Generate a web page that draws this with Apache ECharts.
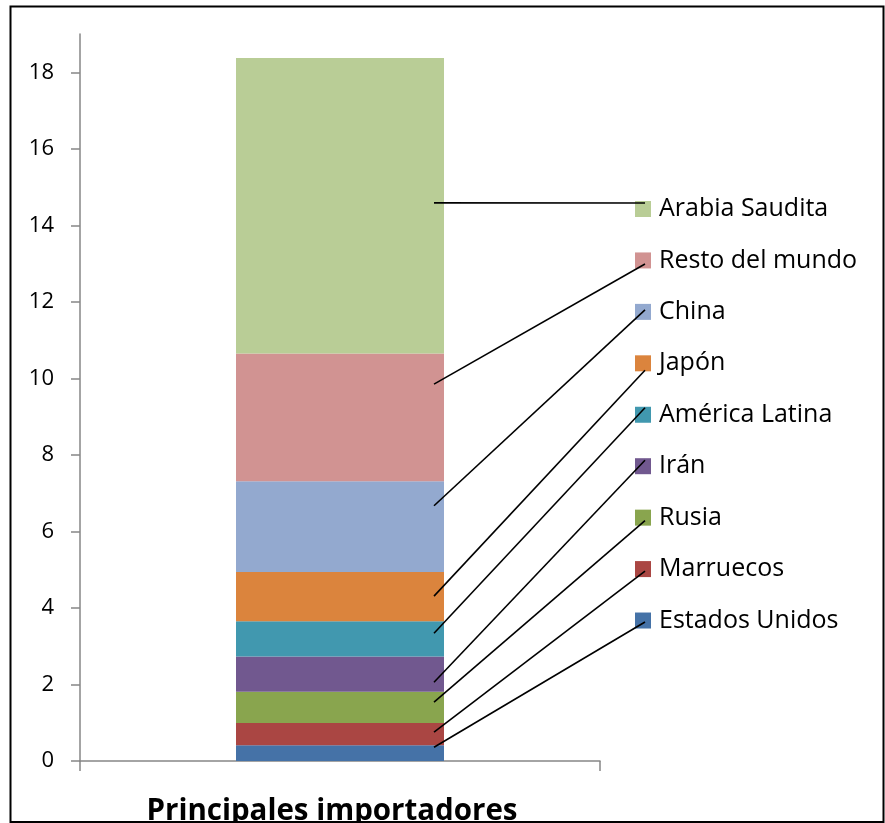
<!DOCTYPE html>
<html><head><meta charset="utf-8">
<script src="https://cdn.jsdelivr.net/npm/echarts@6/dist/echarts.min.js"></script>
<style>html,body{margin:0;padding:0;background:#fff}#c{width:885px;height:823px}</style>
</head><body><div id="c"></div>
<script>
// ---- data ----
const categories = ['Principales importadores'];
const seriesNames = ['Estados Unidos','Marruecos','Rusia','Irán','América Latina','Japón','China','Resto del mundo','Arabia Saudita'];
const valEstadosUnidos = [0.41];
const valMarruecos = [0.58];
const valRusia = [0.82];
const valIran = [0.92];
const valAmericaLatina = [0.92];
const valJapon = [1.29];
const valChina = [2.37];
const valRestoMundo = [3.34];
const valArabiaSaudita = [7.72];
const yTicks = [0, 2, 4, 6, 8, 10, 12, 14, 16, 18];

// ---- styles / layout ----
const seriesValues = [valEstadosUnidos, valMarruecos, valRusia, valIran, valAmericaLatina, valJapon, valChina, valRestoMundo, valArabiaSaudita];
const colors = ['#4572A7','#AA4643','#89A54E','#71588F','#4198AF','#DB843D','#93A9CF','#D19392','#B9CD96'];
const leaderFrac = [0.88, 0.59, 0.67, 0.27, 0.66, 0.51, 0.73, 0.76, 0.51];
const leaderEndDy = [1.5, 2, 3, -6, -7, 7, -2, 3.5, -6];
const FONT = '"Open Sans"';
const LEGEND_FS = 25;
const LEGEND_LEFT = 635, LEGEND_STEP = 51.44, ICON = 16;
const LEGEND_CENTER0 = 209;
const LEGEND_TOP = LEGEND_CENTER0 - LEGEND_FS / 2;

const barSeries = seriesNames.map((name, i) => ({
  name, type: 'bar', stack: 'total', barWidth: '40%',
  itemStyle: { color: colors[i] },
  data: seriesValues[i]
}));

// cumulative bases for leader lines
const leaderData = [];
let acc = 0;
seriesValues.forEach((arr, i) => {
  const v = arr[0];
  leaderData.push([0, acc, acc + v, i]);
  acc += v;
});

const chart = echarts.init(document.getElementById('c'), null, { renderer: 'canvas' });
chart.setOption({
  animation: false,
  color: colors,
  grid: { left: 80, right: 285, top: 34, bottom: 62, containLabel: false, outerBoundsMode: 'none' },
  legend: {
    orient: 'vertical', left: LEGEND_LEFT, top: LEGEND_TOP, padding: 0,
    itemWidth: ICON, itemHeight: ICON, itemGap: LEGEND_STEP - LEGEND_FS,
    icon: 'rect',
    data: seriesNames.slice().reverse(),
    textStyle: { fontFamily: FONT, fontSize: LEGEND_FS, color: '#000', padding: [0, 0, 0, 3] },
    selectedMode: false
  },
  xAxis: {
    type: 'category', data: categories,
    axisLine: { lineStyle: { color: '#868686', width: 1.5 } },
    axisTick: { show: true, length: 10, alignWithLabel: false, lineStyle: { color: '#868686', width: 1.5 } },
    axisLabel: { fontFamily: FONT, fontWeight: 'bold', fontSize: 29.5, color: '#000', margin: 36, padding: [0, 16, 0, 0] }
  },
  yAxis: {
    type: 'value', min: 0, max: 19,
    axisLine: { show: true, lineStyle: { color: '#868686', width: 1.5 } },
    axisTick: { show: true, length: 9, customValues: yTicks, lineStyle: { color: '#868686', width: 1.5 } },
    axisLabel: { customValues: yTicks, fontFamily: FONT, fontSize: 22, color: '#000', margin: 26 },
    splitLine: { show: false }
  },
  graphic: [{
    type: 'rect', shape: { x: 10.5, y: 6.5, width: 873, height: 815.5 },
    style: { fill: 'none', stroke: '#000', lineWidth: 2 }, silent: true, z: 100
  }],
  series: barSeries.concat([{
    type: 'custom', name: 'leaders', silent: true, z: 10,
    data: leaderData,
    encode: { x: 0, y: [1, 2] },
    renderItem(params, api) {
      const i = api.value(3);
      const lo = api.value(1), hi = api.value(2);
      const v = lo + (hi - lo) * leaderFrac[i];
      const p = api.coord([api.value(0), v]);
      const half = api.size([1, 0])[0] * 0.4 / 2;
      const legendIdx = seriesNames.length - 1 - i;
      return {
        type: 'line',
        shape: { x1: p[0] + half - 10, y1: p[1], x2: LEGEND_LEFT + 10, y2: LEGEND_CENTER0 + legendIdx * LEGEND_STEP + leaderEndDy[i] },
        style: { stroke: '#000', lineWidth: 1.6 }
      };
    }
  }])
});
</script></body></html>
